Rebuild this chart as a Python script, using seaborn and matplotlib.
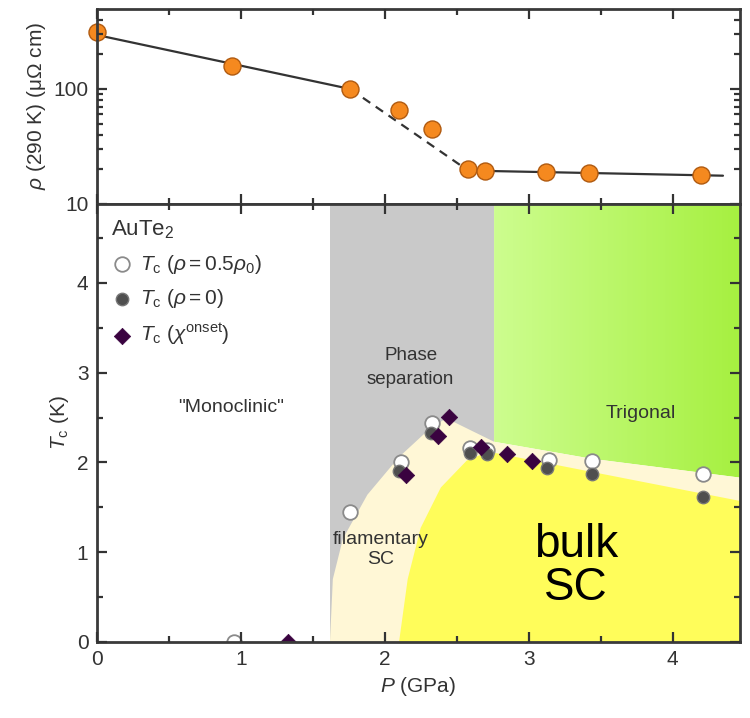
import numpy as np
import pandas as pd
import matplotlib
matplotlib.use("Agg")
import matplotlib.pyplot as plt
from matplotlib.patches import Polygon
from matplotlib.lines import Line2D
from matplotlib.transforms import blended_transform_factory
from matplotlib.ticker import MultipleLocator, LogLocator, NullFormatter
import seaborn as sns

# --- data ---
rho_P = [0.0, 0.94, 1.76, 2.10, 2.33, 2.58, 2.70, 3.12, 3.42, 4.20]
rho_val = [310, 157, 100, 65, 45, 20, 19.5, 19, 18.5, 18]
fit_P = [0.0, 1.76, 2.58, 4.35]
fit_rho = [295, 100, 19.5, 17.6]

tc_half_P = [0.95, 1.76, 2.11, 2.33, 2.59, 2.71, 3.14, 3.44, 4.21]
tc_half_T = [0.0, 1.45, 2.00, 2.44, 2.16, 2.14, 2.03, 2.01, 1.87]
tc_zero_P = [2.10, 2.32, 2.59, 2.71, 3.13, 3.44, 4.21]
tc_zero_T = [1.90, 2.33, 2.10, 2.09, 1.94, 1.87, 1.61]
tc_chi_P = [1.33, 2.15, 2.37, 2.45, 2.67, 2.85, 3.02]
tc_chi_T = [0.0, 1.86, 2.29, 2.51, 2.17, 2.09, 2.01]

# phase boundaries (P, T)
gray_span = (1.62, 2.76)
fil_left = [(1.62, 0), (1.64, 0.7), (1.71, 1.15), (1.88, 1.64), (2.10, 2.06), (2.33, 2.40), (2.43, 2.49)]
fil_top = [(2.76, 2.23), (3.44, 2.04), (4.47, 1.83)]
bulk_left = [(2.10, 0), (2.16, 0.7), (2.25, 1.27), (2.39, 1.72), (2.57, 2.02), (2.72, 2.12)]
bulk_top = [(4.47, 1.57)]

# tick positions
p_major = [0, 1, 2, 3, 4]
p_minor = [0.5, 1.5, 2.5, 3.5]
t_major = [0, 1, 2, 3, 4]
t_minor = [0.5, 1.5, 2.5, 3.5, 4.5]
rho_major = [10, 100]
rho_minor = [20, 30, 40, 50, 60, 70, 80, 90, 200, 300, 400]

xmax, tmax = 4.47, 4.88

sns.set_theme(style="ticks")
plt.rcParams["font.family"] = ["Liberation Sans", "DejaVu Sans"]
plt.rcParams["mathtext.fontset"] = "custom"
plt.rcParams["mathtext.rm"] = "Liberation Sans"
plt.rcParams["mathtext.it"] = "Liberation Sans:italic"
plt.rcParams["text.color"] = "#333333"
plt.rcParams["axes.labelcolor"] = "#333333"
plt.rcParams["xtick.color"] = "#333333"
plt.rcParams["ytick.color"] = "#333333"

fig = plt.figure(figsize=(7.5, 7.18), dpi=100)
ax1 = fig.add_axes([0.129, 0.716, 0.858, 0.272])
ax2 = fig.add_axes([0.129, 0.106, 0.858, 0.610])

# --- top panel: resistivity ---
rho = pd.DataFrame({"P": rho_P, "rho": rho_val})
ax1.plot(fit_P[:2], fit_rho[:2], color="#333333", lw=1.6)
ax1.plot(fit_P[1:3], fit_rho[1:3], color="#333333", lw=1.6, ls=(0, (4, 3)))
ax1.plot(fit_P[2:], fit_rho[2:], color="#333333", lw=1.6)
sns.scatterplot(data=rho, x="P", y="rho", ax=ax1, color="#f5891f", edgecolor="#b05a10",
                s=150, linewidth=1.0, zorder=5, clip_on=False)
ax1.set_yscale("log")
ax1.set_ylim(10, 500)
ax1.set_xlim(0, xmax)
ax1.set_yticks(rho_major)
ax1.set_yticklabels([str(v) for v in rho_major])
ax1.yaxis.set_minor_locator(LogLocator(base=10, subs=np.arange(2, 10)))
ax1.yaxis.set_minor_formatter(NullFormatter())
ax1.set_xticks(p_major)
ax1.set_xlabel("")
ax1.set_ylabel(r"$\rho$ (290 K) ($\mathrm{\mu\Omega}$ cm)", fontsize=15)

# --- bottom panel: phase diagram ---
ax2.axvspan(*gray_span, color="#c9c9c9", lw=0, zorder=0)

green = Polygon([(gray_span[1], tmax), (xmax, tmax)] + fil_top[::-1], closed=True,
                facecolor="none", edgecolor="none")
ax2.add_patch(green)
cmap = matplotlib.colors.LinearSegmentedColormap.from_list("g", ["#cdfd8f", "#a6f040"])
grad = np.linspace(0, 1, 256).reshape(1, -1)
im = ax2.imshow(grad, extent=[gray_span[1], xmax, 0, tmax], cmap=cmap, aspect="auto", zorder=0.5)
im.set_clip_path(green)

fil = Polygon(fil_left + fil_top + [(xmax, 0)], closed=True, facecolor="#fff7d6", edgecolor="none", zorder=1)
ax2.add_patch(fil)
bulk = Polygon(bulk_left + bulk_top + [(xmax, 0)], closed=True, facecolor="#fffd5a", edgecolor="none", zorder=2)
ax2.add_patch(bulk)

half = pd.DataFrame({"P": tc_half_P, "T": tc_half_T})
zero = pd.DataFrame({"P": tc_zero_P, "T": tc_zero_T})
chi = pd.DataFrame({"P": tc_chi_P, "T": tc_chi_T})
sns.scatterplot(data=half, x="P", y="T", ax=ax2, marker="o", s=110, facecolor="white",
                edgecolor="#8a8a8a", linewidth=1.3, zorder=5, label=r"$T_\mathrm{c}$ ($\rho = 0.5\rho_0$)")
sns.scatterplot(data=zero, x="P", y="T", ax=ax2, marker="o", s=80, color="#4f4f4f",
                edgecolor="#777777", linewidth=1.0, zorder=6, label=r"$T_\mathrm{c}$ ($\rho = 0$)")
sns.scatterplot(data=chi, x="P", y="T", ax=ax2, marker="D", s=70, color="#3a0340",
                edgecolor="#3a0340", linewidth=0.5, zorder=7, label=r"$T_\mathrm{c}$ ($\chi^\mathrm{onset}$)")

ax2.set_xlim(0, xmax)
ax2.set_ylim(0, tmax)
ax2.set_xticks(p_major)
ax2.set_yticks(t_major)
ax2.set_xlabel(r"$P$ (GPa)", fontsize=15)
ax2.set_ylabel(r"$T_\mathrm{c}$ (K)", fontsize=15)

leg = ax2.legend(loc="upper left", title=r"AuTe$_2$", frameon=False, fontsize=15,
                 title_fontsize=16, handletextpad=0.4, borderaxespad=0.3, labelspacing=0.55,
                 handlelength=1.0)
leg._legend_box.align = "left"
for t in leg.get_texts():
    t.set_color("#333333")
leg.get_title().set_color("#333333")

ax2.text(0.93, 2.61, "\"Monoclinic\"", ha="center", va="center", fontsize=14, zorder=8)
ax2.text(2.18, 3.06, "Phase\nseparation", ha="center", va="center", fontsize=13.5,
         linespacing=1.5, zorder=8)
ax2.text(3.78, 2.55, "Trigonal", ha="center", va="center", fontsize=14, zorder=8)
ax2.text(1.97, 1.03, "filamentary\nSC", ha="center", va="center", fontsize=14,
         linespacing=1.2, zorder=8)
ax2.text(3.33, 0.84, "bulk\nSC", ha="center", va="center", fontsize=33, color="black",
         linespacing=0.95, zorder=8)


def inner_ticks(ax, xmaj, xmin, ymaj, ymin):
    # inward ticks on all four sides, drawn as short lines (length in pixels)
    bb = ax.get_position()
    w_px = bb.width * fig.get_figwidth() * fig.dpi
    h_px = bb.height * fig.get_figheight() * fig.dpi
    tx = blended_transform_factory(ax.transData, ax.transAxes)
    ty = blended_transform_factory(ax.transAxes, ax.transData)
    kw = dict(color="#333333", lw=1.6, zorder=11, clip_on=False, solid_capstyle="butt")
    for vals, L in ((xmaj, 10), (xmin, 6)):
        f = L / h_px
        for v in vals:
            ax.add_line(Line2D([v, v], [0, f], transform=tx, **kw))
            ax.add_line(Line2D([v, v], [1, 1 - f], transform=tx, **kw))
    for vals, L in ((ymaj, 10), (ymin, 6)):
        f = L / w_px
        for v in vals:
            ax.add_line(Line2D([0, f], [v, v], transform=ty, **kw))
            ax.add_line(Line2D([1, 1 - f], [v, v], transform=ty, **kw))


for ax in (ax1, ax2):
    for sp in ax.spines.values():
        sp.set_visible(True)
        sp.set_color("#3a3a3a")
        sp.set_linewidth(2.0)
        sp.set_zorder(10)
    ax.tick_params(which="both", direction="in", length=0, labelsize=15, pad=6)
ax1.tick_params(axis="x", which="both", labelbottom=False)

inner_ticks(ax1, p_major, p_minor, rho_major, rho_minor)
inner_ticks(ax2, p_major, p_minor, t_major, t_minor)
ax1.set_xlim(0, xmax)
ax1.set_ylim(10, 500)
ax2.set_xlim(0, xmax)
ax2.set_ylim(0, tmax)

fig.savefig("out.png", dpi=100)
